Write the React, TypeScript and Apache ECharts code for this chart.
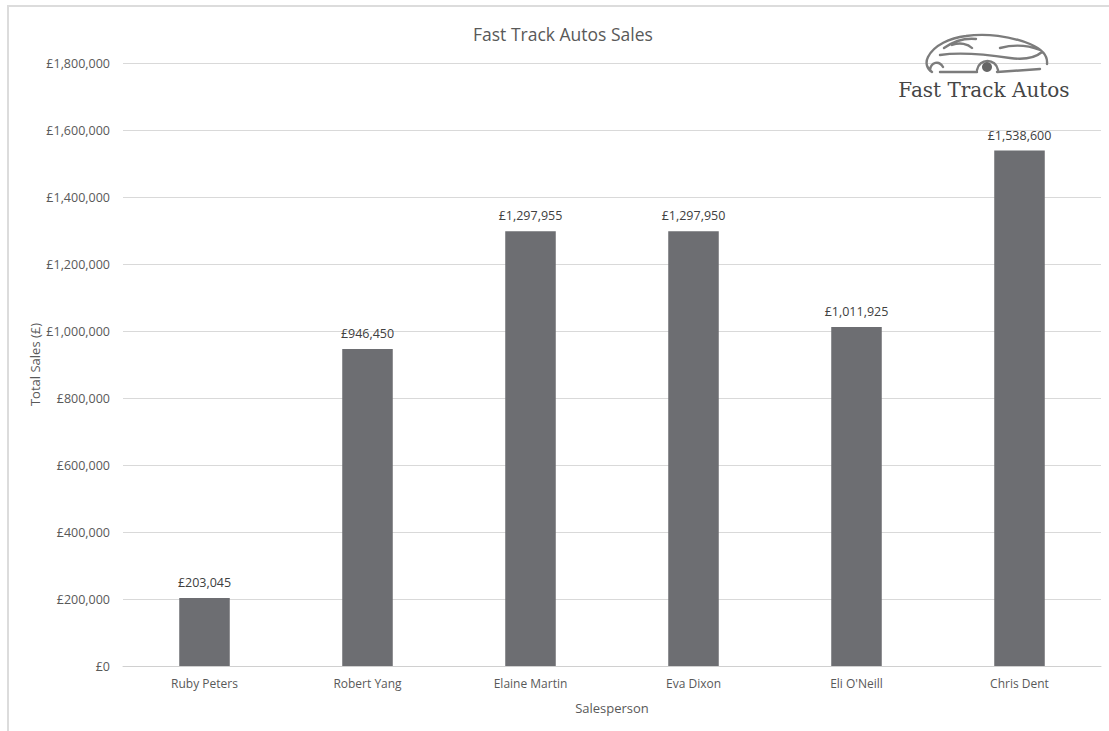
import React, { useEffect, useRef } from "react";
import * as echarts from "echarts";

const categories = ["Ruby Peters", "Robert Yang", "Elaine Martin", "Eva Dixon", "Eli O'Neill", "Chris Dent"];
const salesValues = [203045, 946450, 1297955, 1297950, 1011925, 1538600];
const axisMax = 1800000;
const axisInterval = 200000;

const carPath =
  "M 928 57 C 934 45, 950 38, 966 36 C 986 33, 1010 36, 1030 44 C 1042 49, 1048 55, 1047 64 " +
  "M 928 57 C 925 63, 927 69, 932 72 " +
  "M 944 48 C 954 41, 966 38, 976 39 " +
  "M 952 45 C 960 42, 968 44, 972 48 " +
  "M 940 55 C 960 52, 990 55, 1010 58 C 1025 60, 1035 58, 1042 52 " +
  "M 1000 48 C 1015 44, 1030 46, 1040 50 " +
  "M 940 72 L 977 72 " +
  "M 997 72 L 1040 69 " +
  "M 930 70 C 931 62, 939 60, 943 67 " +
  "M 977 70 C 979 58, 996 58, 998 70";

echarts.graphic.registerShape("carlogo", echarts.graphic.extendPath(carPath, {}));

function fmt(v: number): string {
  const s = Math.round(v).toString();
  return "£" + s.replace(/\B(?=(\d{3})+(?!\d))/g, ",");
}

export default function App() {
  const ref = useRef<HTMLDivElement>(null);
  useEffect(() => {
    if (!ref.current) return;
    const chart = echarts.init(ref.current, undefined, { renderer: "svg" });
    const font = "'Open Sans', sans-serif";
    chart.setOption({
      animation: false,
      backgroundColor: "#ffffff",
      title: {
        text: "Fast Track Autos Sales",
        left: 468,
        top: 20,
        textStyle: { fontFamily: font, fontSize: 17.5, fontWeight: "normal", color: "#595959" },
      },
      grid: { left: 123, right: 8, top: 63, bottom: 65 },
      xAxis: {
        type: "category",
        data: categories,
        name: "Salesperson",
        nameLocation: "middle",
        nameGap: 35,
        nameMoveOverlap: false,
        nameTextStyle: { fontFamily: font, fontSize: 13, color: "#595959" },
        axisLine: { lineStyle: { color: "#d0d0d0", width: 1 } },
        axisTick: { show: false },
        axisLabel: { fontFamily: font, fontSize: 12, color: "#595959", margin: 11 },
      },
      yAxis: {
        type: "value",
        min: 0,
        max: axisMax,
        interval: axisInterval,
        name: "Total Sales (£)",
        nameLocation: "middle",
        nameGap: 82,
        nameMoveOverlap: false,
        nameTextStyle: { fontFamily: font, fontSize: 13, color: "#595959" },
        axisLine: { show: false },
        axisTick: { show: false },
        splitLine: { lineStyle: { color: "#d9d9d9", width: 1 } },
        axisLabel: { fontFamily: font, fontSize: 12.5, color: "#595959", margin: 13, formatter: (v: number) => fmt(v) },
      },
      series: [
        {
          type: "bar",
          data: salesValues,
          barWidth: "31%",
          itemStyle: { color: "#6d6e72" },
          label: {
            show: true,
            position: "top",
            distance: 9,
            fontFamily: font,
            fontSize: 12.5,
            color: "#404040",
            formatter: (p: any) => fmt(p.value),
          },
        },
      ],
      graphic: [
        {
          type: "rect",
          shape: { x: 8, y: 6, width: 1130, height: 760 },
          style: { fill: "none", stroke: "#dcdcdc", lineWidth: 2 },
          silent: true,
        },
        {
          type: "carlogo",
          x: 0,
          y: 0,
          style: { fill: "none", stroke: "#7c7c7c", lineWidth: 2.4, lineCap: "round" },
          z: 100,
        },
        {
          type: "circle",
          shape: { cx: 987, cy: 67, r: 5 },
          style: { fill: "#666666" },
          z: 100,
        },
        {
          type: "text",
          x: 984,
          y: 90,
          style: {
            text: "Fast Track Autos",
            fontFamily: "'DejaVu Serif', serif",
            fontSize: 20,
            fill: "#454545",
            textAlign: "center",
            textVerticalAlign: "middle",
          },
          z: 100,
        },
      ],
    });
    return () => chart.dispose();
  }, []);
  return (
    <div
      ref={ref}
      style={{ position: "fixed", left: 0, top: 0, width: 1109, height: 731, background: "#fff" }}
    />
  );
}
